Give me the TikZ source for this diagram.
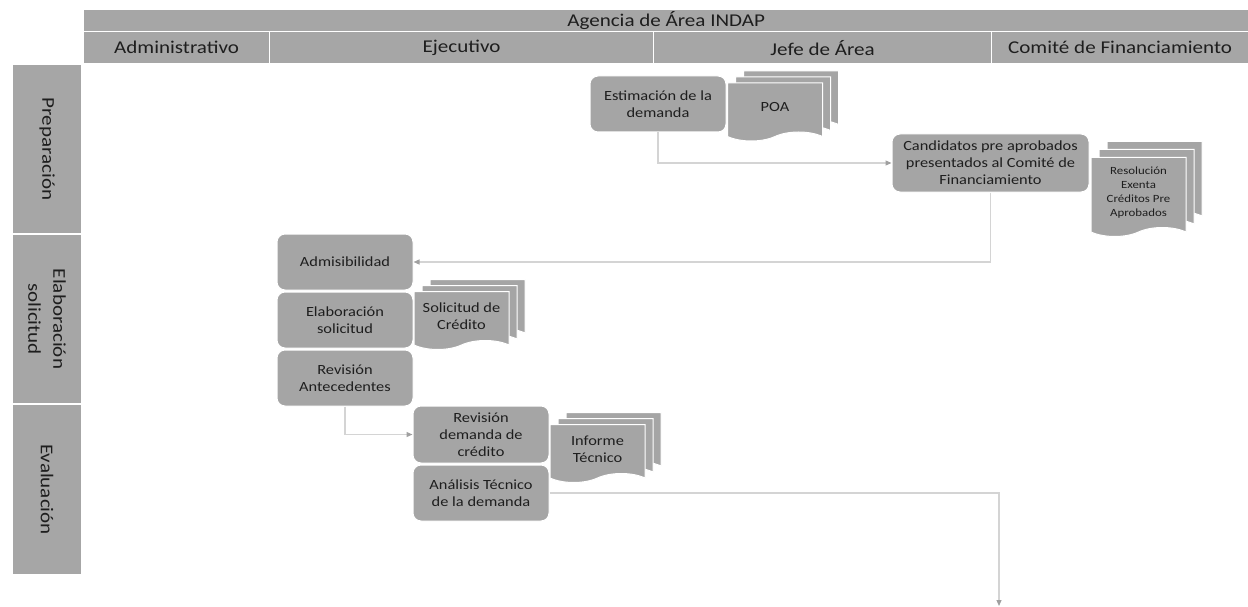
\documentclass[tikz,border=0pt]{standalone}
\usepackage{fontspec}
\setmainfont{Carlito}[FakeStretch=1.17]
\usepackage{tikz}
\definecolor{laneGray}{RGB}{166,166,166}
\definecolor{boxGray}{RGB}{165,165,165}
\definecolor{lineGray}{RGB}{212,212,212}
\definecolor{tipGray}{RGB}{160,160,160}
\definecolor{inkGray}{RGB}{30,30,30}
\usetikzlibrary{arrows.meta, positioning, shapes.symbols, shadows}

\begin{document}
\begin{tikzpicture}[x=1pt, y=-1pt,
    hdr/.style={rectangle, draw=white, line width=1.2pt, fill=laneGray, inner sep=0pt,
                anchor=north west, text=inkGray, font=\fontsize{18}{22}\selectfont},
    lane/.style={rectangle, draw=white, line width=1.2pt, fill=laneGray, inner sep=0pt,
                rotate=-90, minimum width=170pt, minimum height=70pt, align=center,
                text=inkGray, font=\fontsize{18}{25}\selectfont},
    task/.style={rectangle, rounded corners=8pt, draw=white, line width=1pt, fill=boxGray,
                minimum width=136pt, minimum height=56pt, align=center,
                text=inkGray, font=\fontsize{14}{17}\selectfont},
    doc/.style={tape, tape bend top=none, tape bend bottom=in and out, tape bend height=9pt,
                draw=white, line width=1pt, fill=boxGray, minimum width=95pt, minimum height=58pt,
                align=center, text=inkGray, font=\fontsize{14}{17}\selectfont,
                double copy shadow={shadow xshift=8pt, shadow yshift=#1, draw=white, fill=boxGray, line width=1pt}},
    doc/.default=6pt,
    flow/.style={draw=lineGray, line width=1.2pt, -{Triangle[length=6pt, width=5pt, fill=tipGray, color=tipGray]}}
]
    \useasboundingbox (0,0) rectangle (1248,607);

    % swimlane headers
    \node[hdr, minimum width=1165pt, minimum height=22pt] (hAgency) at (83,9) {Agencia de Área INDAP};
    \node[hdr, minimum width=186pt, minimum height=32pt] (hAdmin) at (83,31) {Administrativo};
    \node[hdr, minimum width=384pt, minimum height=32pt] (hEjec) at (269,31) {Ejecutivo};
    \node[hdr, minimum width=338pt, minimum height=32pt] (hJefe) at (653,31) {Jefe de Área};
    \node[hdr, minimum width=257pt, minimum height=32pt] (hComite) at (991,31) {Comité de Financiamiento};

    \node[lane] (lPrep) at (47,149) {Preparación};
    \node[lane] (lElab) at (47,319) {Elaboración\\solicitud};
    \node[lane] (lEval) at (47,489.5) {Evaluación};

    % activities
    \node[task] (estim) at (658,104) {Estimación de la\\demanda};
    \node[task, minimum width=197pt, minimum height=58pt] (cand) at (990.5,163) {Candidatos pre aprobados\\presentados al Comité de\\Financiamiento};
    \node[task] (admis) at (345,262) {Admisibilidad};
    \node[task, below=1pt of admis] (elab) {Elaboración\\solicitud};
    \node[task, below=1pt of elab] (revant) {Revisión\\Antecedentes};
    \node[task, minimum height=57pt] (revdem) at (481,434.5) {Revisión\\demanda de\\crédito};
    \node[task, below=1pt of revdem] (analisis) {Análisis Técnico\\de la demanda};

    % documents
    \node[doc] (poa) at (775,107.5) {POA};
    \node[doc=8pt, minimum height=79pt, font=\fontsize{11}{14}\selectfont] (resol) at (1138.5,192.5) {Resolución\\Exenta\\Créditos Pre\\Aprobados};
    \node[doc] (solic) at (461.5,316) {Solicitud de\\Crédito};
    \node[doc] (inform) at (597.5,449) {Informe\\Técnico};

    % flow
    \coordinate (exit) at (999,606);
    \draw[flow] (estim.south) |- (cand.west);
    \draw[flow] (cand.south) |- (admis.east);
    \draw[flow] (revant.south) |- (revdem.west);
    \draw[flow] (analisis.east) -| (exit);
\end{tikzpicture}
\end{document}
